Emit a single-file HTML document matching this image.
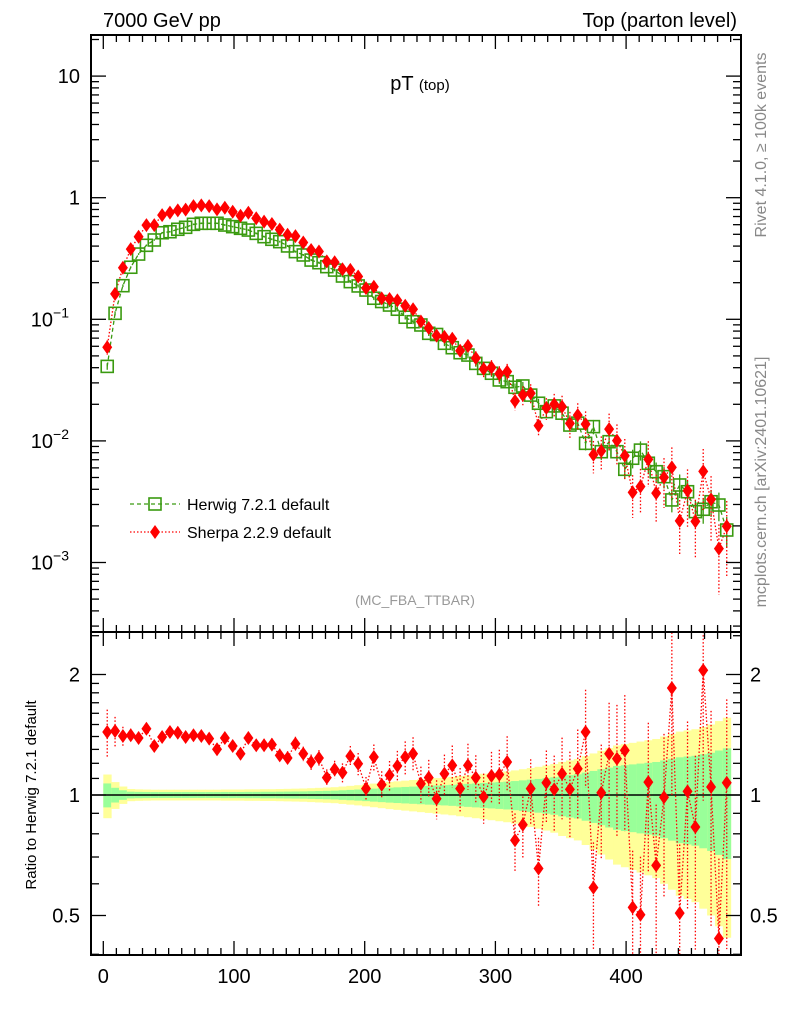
<!DOCTYPE html>
<html><head><meta charset="utf-8"><style>
html,body{margin:0;padding:0;background:#fff;width:786px;height:1024px;overflow:hidden;}
svg{display:block;font-family:"Liberation Sans",Arial,sans-serif;}
</style></head><body>
<svg id="chart" width="786" height="1024" viewBox="0 0 786 1024" xmlns="http://www.w3.org/2000/svg">
<defs>
<clipPath id="cm"><rect x="91" y="35" width="650" height="597"/></clipPath>
<clipPath id="cr"><rect x="91" y="632" width="650" height="323"/></clipPath>
</defs>
<rect width="786" height="1024" fill="#fff"/>
<g id="ratioBands" clip-path="url(#cr)"></g>
<g id="mainMarks" clip-path="url(#cm)"></g>
<g id="ratioMarks" clip-path="url(#cr)"></g>
<g id="axes"></g>
<text x="103" y="27" font-size="20">7000 GeV pp</text>
<text x="737" y="27" font-size="20" text-anchor="end">Top (parton level)</text>
<text x="420" y="90" font-size="20" text-anchor="middle">pT <tspan font-size="15">(top)</tspan></text>
<text x="415" y="605" font-size="14" fill="#999" text-anchor="middle">(MC_FBA_TTBAR)</text>
<text transform="translate(766,145) rotate(-90)" font-size="16" fill="#888" text-anchor="middle">Rivet 4.1.0, ≥ 100k events</text>
<text transform="translate(766,482) rotate(-90)" font-size="16" fill="#888" text-anchor="middle">mcplots.cern.ch [arXiv:2401.10621]</text>
<text transform="translate(36,795) rotate(-90)" font-size="15" text-anchor="middle">Ratio to Herwig 7.2.1 default</text>
<g>
<g>
<line x1="130" y1="504" x2="180" y2="504" stroke="#3a9a10" stroke-width="1.3" stroke-dasharray="4,3"/>
<rect x="149" y="498" width="12" height="12" fill="none" stroke="#3a9a10" stroke-width="1.6"/>
<text x="187" y="510" font-size="16">Herwig 7.2.1 default</text></g>
<g>
<line x1="130" y1="532" x2="180" y2="532" stroke="#f00" stroke-width="1.3" stroke-dasharray="1.5,2"/>
<path d="M155 525 L160 532 L155 539 L150 532 Z" fill="#f00"/>
<text x="187" y="538" font-size="16">Sherpa 2.2.9 default</text></g>
</g>
</svg>
<script>
const binWidth = 6;
const herwig = [0.041,0.112,0.189,0.268,0.344,0.406,0.449,0.515,0.525,0.55,0.571,0.604,0.616,0.616,0.616,0.596,0.578,0.56,0.542,0.509,0.478,0.455,0.435,0.401,0.36,0.338,0.307,0.292,0.271,0.254,0.227,0.204,0.188,0.174,0.149,0.14,0.131,0.121,0.104,0.0955,0.0898,0.0767,0.075,0.0635,0.0584,0.0531,0.0508,0.0434,0.0395,0.036,0.0317,0.0307,0.0276,0.0283,0.0238,0.0204,0.0174,0.0194,0.0169,0.0135,0.014,0.00955,0.0131,0.00815,0.00985,0.00815,0.00584,0.0072,0.0084,0.00655,0.00558,0.00508,0.00327,0.00434,0.00382,0.00262,0.00274,0.00316,0.00297,0.00185];
const sherpaRatio = [1.437,1.445,1.404,1.41,1.388,1.464,1.326,1.396,1.437,1.431,1.396,1.41,1.404,1.383,1.301,1.388,1.326,1.268,1.388,1.331,1.331,1.336,1.256,1.237,1.343,1.268,1.209,1.237,1.105,1.159,1.137,1.251,1.197,1.037,1.244,1.061,1.12,1.182,1.244,1.268,1.067,1.105,0.979,1.13,1.186,1.037,1.186,1.105,0.989,1.116,1.124,1.209,0.771,0.843,1.037,0.655,1.073,1.033,1.13,1.033,1.163,1.437,0.587,1.013,1.268,1.232,1.293,0.524,0.502,1.077,0.667,0.987,1.851,0.507,1.021,0.832,2.049,1.047,0.438,1.073];
const relErr = [0.125,0.077,0.05,0.035,0.033,0.032,0.031,0.031,0.031,0.031,0.031,0.031,0.031,0.031,0.031,0.032,0.032,0.032,0.033,0.033,0.034,0.034,0.035,0.036,0.037,0.038,0.04,0.042,0.044,0.046,0.05,0.054,0.058,0.063,0.068,0.073,0.078,0.082,0.086,0.09,0.094,0.098,0.102,0.106,0.11,0.115,0.12,0.125,0.13,0.135,0.14,0.145,0.152,0.16,0.168,0.176,0.185,0.195,0.21,0.22,0.23,0.25,0.27,0.29,0.31,0.33,0.34,0.35,0.36,0.37,0.38,0.4,0.42,0.44,0.45,0.46,0.48,0.5,0.53,0.56];
const xTicks = [0,100,200,300,400];
const mainTickLabels = ["10","1","10","10","10"];
const mainTickVals = [10,1,0.1,0.01,0.001];
const ratioTickVals = [2,1,0.5];
const ratioTickLabels = ["2","1","0.5"];

const NS="http://www.w3.org/2000/svg";
const X = x => 103.3 + 1.307*x;
const YM = v => 197.7 - 121.6*Math.log10(v);
const YR = r => 795 - 120.5*Math.log2(r);
function mk(tag, attrs, parent){const e=document.createElementNS(NS,tag);for(const k in attrs)e.setAttribute(k,attrs[k]);parent.appendChild(e);return e;}
const bands=document.getElementById('ratioBands'), mm=document.getElementById('mainMarks'), rm=document.getElementById('ratioMarks'), ax=document.getElementById('axes');

herwig.forEach((h,i)=>{
  const x0=X(i*binWidth), x1=X((i+1)*binWidth), e=relErr[i];
  const y=mk('rect',{x:x0,y:YR(1+e),width:x1-x0+0.5,height:YR(1-e)-YR(1+e),fill:'#ffff99'},bands);
  
  
  const g=mk('rect',{x:x0,y:YR(1+0.55*e),width:x1-x0+0.5,height:YR(1-0.55*e)-YR(1+0.55*e),fill:'#99ff99'},bands);
  
  
});
const one=mk('line',{x1:91,x2:741,y1:YR(1),y2:YR(1),stroke:'#000','stroke-width':1.5},rm);



const cx = i => X((i+0.5)*binWidth);
const hp = mk('polyline',{points:herwig.map((h,i)=>cx(i)+','+YM(h)).join(' '),fill:'none',stroke:'#3a9a10','stroke-width':1.3,'stroke-dasharray':'4,3'},mm);


const sh = herwig.map((h,i)=>h*sherpaRatio[i]);
const sp = mk('polyline',{points:sh.map((s,i)=>cx(i)+','+YM(s)).join(' '),fill:'none',stroke:'#f00','stroke-width':1.3,'stroke-dasharray':'1.5,2'},mm);


const rp = mk('polyline',{points:sherpaRatio.map((r,i)=>cx(i)+','+YR(r)).join(' '),fill:'none',stroke:'#f00','stroke-width':1.3,'stroke-dasharray':'1.5,2'},rm);



herwig.forEach((h,i)=>{
  const x=cx(i), y=YM(h), e=relErr[i]*0.5;
  const eb=mk('line',{x1:x,x2:x,y1:YM(h*(1+e)),y2:YM(h*Math.max(0.05,1-e)),stroke:'#3a9a10','stroke-width':1.3},mm);
  
  
  const r=mk('rect',{x:x-6,y:y-6,width:12,height:12,fill:'none',stroke:'#3a9a10','stroke-width':1.6},mm);
  
  
});
sh.forEach((s,i)=>{
  const x=cx(i), y=YM(s), e=relErr[i]*1.1;
  const eb=mk('line',{x1:x,x2:x,y1:YM(s*(1+e)),y2:YM(s*Math.max(0.05,1-e)),stroke:'#f00','stroke-width':1.3,'stroke-dasharray':'1.5,2'},mm);
  
  
  const d=mk('path',{d:`M${x} ${y-7}L${x+5} ${y}L${x} ${y+7}L${x-5} ${y}Z`,fill:'#f00'},mm);
  
  
  const r=sherpaRatio[i], yr=YR(r);
  const eb2=mk('line',{x1:x,x2:x,y1:YR(r*(1+e)),y2:YR(r*Math.max(0.05,1-e)),stroke:'#f00','stroke-width':1.3,'stroke-dasharray':'1.5,2'},rm);
  
  
  const d2=mk('path',{d:`M${x} ${yr-7}L${x+5} ${yr}L${x} ${yr+7}L${x-5} ${yr}Z`,fill:'#f00'},rm);
  
  
});

const f1=mk('rect',{x:91,y:35,width:650,height:597,fill:'none',stroke:'#000','stroke-width':2},ax);


const f2=mk('rect',{x:91,y:632,width:650,height:323,fill:'none',stroke:'#000','stroke-width':2},ax);



for(let v=0; v<=480; v+=10){
  const major = v%100===0, x=X(v), L=major?14:7;
  [[955,-1],[632,-1],[632,1],[35,1]].forEach(([y0,dir])=>{
    const t=mk('line',{x1:x,x2:x,y1:y0,y2:y0+dir*L,stroke:'#000','stroke-width':1.3},ax);
    
    
  });
}
xTicks.forEach(v=>{
  const t=mk('text',{x:X(v),y:983,'font-size':20,'text-anchor':'middle'},ax);
  t.textContent=v;
  
  
});
for(let d=-4; d<=1; d++){
  for(let m=1;m<=9;m++){
    const v=m*Math.pow(10,d), y=YM(v);
    if(y<35||y>632) continue;
    const L=m===1?15:8;
    [[91,1],[741,-1]].forEach(([x0,dir])=>{
      const t=mk('line',{x1:x0,x2:x0+dir*L,y1:y,y2:y,stroke:'#000','stroke-width':1.3},ax);
      
      
    });
  }
}
mainTickVals.forEach((v,i)=>{
  const y=YM(v);
  const t=mk('text',{x:i<2?80:69,y:y+7,'font-size':20,'text-anchor':'end'},ax);
  t.textContent=mainTickLabels[i];
  if(i>=2){const s=mk('tspan',{'font-size':14,dy:-9},t);s.textContent='−'+(i-1);}
  
  
});
[0.4,0.5,0.6,0.7,0.8,0.9,1,1.1,1.2,1.3,1.4,1.5,1.6,1.7,1.8,1.9,2,2.5].forEach(v=>{
  const y=YR(v); if(y<632||y>955) return;
  const major=ratioTickVals.includes(v), L=major?15:8;
  [[91,1],[741,-1]].forEach(([x0,dir])=>{
    const t=mk('line',{x1:x0,x2:x0+dir*L,y1:y,y2:y,stroke:'#000','stroke-width':1.3},ax);
    
    
  });
});
ratioTickVals.forEach((v,i)=>{
  const y=YR(v)+7;
  const t=mk('text',{x:80,y:y,'font-size':20,'text-anchor':'end'},ax);
  t.textContent=ratioTickLabels[i];
  
  
  const t2=mk('text',{x:750,y:y,'font-size':20},ax);
  t2.textContent=ratioTickLabels[i];
  
  
});
</script>
</body></html>
